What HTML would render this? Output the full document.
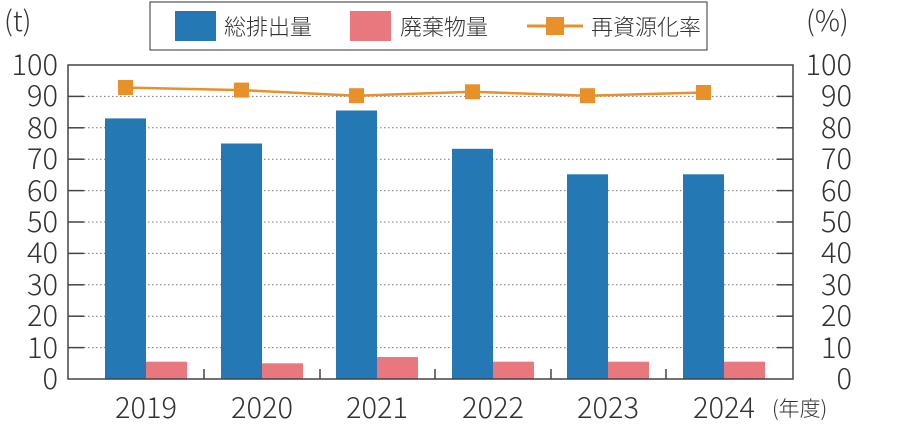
<!DOCTYPE html><html><head><meta charset="utf-8"><style>body{margin:0;background:#fff}</style></head><body>
<svg width="900" height="437" xmlns="http://www.w3.org/2000/svg" font-family="Noto Sans CJK JP, Liberation Sans, sans-serif" fill="#333" font-weight="300">
<rect x="150" y="2" width="557" height="48" fill="#fff" stroke="#555" stroke-width="1.2"/>
<rect x="175" y="11" width="41" height="30" fill="#2479b5"/>
<text x="224" y="35" font-size="22">総排出量</text>
<rect x="350" y="11" width="41" height="30" fill="#e8777e"/>
<text x="400" y="35" font-size="22">廃棄物量</text>
<line x1="527" y1="26" x2="583" y2="26" stroke="#e8902a" stroke-width="3"/>
<rect x="546" y="17" width="18" height="18" fill="#e8902a"/>
<text x="591" y="35" font-size="22">再資源化率</text>
<text x="4" y="31" font-size="28">(t)</text>
<text x="806" y="31" font-size="28">(%)</text>
<g stroke="#777" stroke-width="1" stroke-dasharray="1.5,2.5">
<line x1="68" x2="793" y1="96.4" y2="96.4"/><line x1="68" x2="793" y1="127.8" y2="127.8"/><line x1="68" x2="793" y1="159.2" y2="159.2"/><line x1="68" x2="793" y1="190.6" y2="190.6"/><line x1="68" x2="793" y1="222" y2="222"/><line x1="68" x2="793" y1="253.4" y2="253.4"/><line x1="68" x2="793" y1="284.8" y2="284.8"/><line x1="68" x2="793" y1="316.2" y2="316.2"/><line x1="68" x2="793" y1="347.6" y2="347.6"/>
</g>
<g stroke="#444" stroke-width="1.5">
<line x1="68" x2="84" y1="96.4" y2="96.4"/><line x1="68" x2="84" y1="127.8" y2="127.8"/><line x1="68" x2="84" y1="159.2" y2="159.2"/><line x1="68" x2="84" y1="190.6" y2="190.6"/><line x1="68" x2="84" y1="222" y2="222"/><line x1="68" x2="84" y1="253.4" y2="253.4"/><line x1="68" x2="84" y1="284.8" y2="284.8"/><line x1="68" x2="84" y1="316.2" y2="316.2"/><line x1="68" x2="84" y1="347.6" y2="347.6"/>
<line x1="777" x2="793" y1="96.4" y2="96.4"/><line x1="777" x2="793" y1="127.8" y2="127.8"/><line x1="777" x2="793" y1="159.2" y2="159.2"/><line x1="777" x2="793" y1="190.6" y2="190.6"/><line x1="777" x2="793" y1="222" y2="222"/><line x1="777" x2="793" y1="253.4" y2="253.4"/><line x1="777" x2="793" y1="284.8" y2="284.8"/><line x1="777" x2="793" y1="316.2" y2="316.2"/><line x1="777" x2="793" y1="347.6" y2="347.6"/>
<line x1="204" x2="204" y1="369" y2="379"/><line x1="320" x2="320" y1="369" y2="379"/><line x1="435" x2="435" y1="369" y2="379"/><line x1="551" x2="551" y1="369" y2="379"/><line x1="666" x2="666" y1="369" y2="379"/>
</g>
<g fill="#2479b5">
<rect x="105" y="118.4" width="41" height="260.6"/><rect x="221" y="143.5" width="41" height="235.5"/><rect x="336" y="110.5" width="41" height="268.5"/><rect x="452" y="148.8" width="41" height="230.2"/><rect x="567" y="174.3" width="41" height="204.7"/><rect x="683" y="174.3" width="41" height="204.7"/>
</g>
<g fill="#e8777e">
<rect x="146" y="361.7" width="41" height="17.3"/><rect x="262" y="363.3" width="41" height="15.7"/><rect x="377" y="357" width="41" height="22"/><rect x="493" y="361.7" width="41" height="17.3"/><rect x="608" y="361.7" width="41" height="17.3"/><rect x="724" y="361.7" width="41" height="17.3"/>
</g>
<rect x="68" y="65" width="725" height="314" fill="none" stroke="#444" stroke-width="1.5"/>
<polyline points="125.5,87.6 241.5,90.1 356.5,95.7 472.5,91.8 587.5,95.7 703.5,92.5" fill="none" stroke="#e8902a" stroke-width="2.5"/>
<g fill="#e8902a">
<rect x="118" y="80" width="15" height="15"/><rect x="234" y="82.6" width="15" height="15"/><rect x="349" y="88.2" width="15" height="15"/><rect x="465" y="84.3" width="15" height="15"/><rect x="580" y="88.2" width="15" height="15"/><rect x="696" y="85" width="15" height="15"/>
</g>
<g font-size="29" text-anchor="end">
<text x="58" y="75">100</text><text x="58" y="106">90</text><text x="58" y="138">80</text><text x="58" y="169">70</text><text x="58" y="201">60</text><text x="58" y="232">50</text><text x="58" y="263">40</text><text x="58" y="295">30</text><text x="58" y="326">20</text><text x="58" y="358">10</text><text x="58" y="389">0</text>
</g>
<g font-size="29" text-anchor="end">
<text x="852" y="75">100</text><text x="852" y="106">90</text><text x="852" y="138">80</text><text x="852" y="169">70</text><text x="852" y="201">60</text><text x="852" y="232">50</text><text x="852" y="263">40</text><text x="852" y="295">30</text><text x="852" y="326">20</text><text x="852" y="358">10</text><text x="852" y="389">0</text>
</g>
<g font-size="29" text-anchor="middle">
<text x="146" y="418">2019</text><text x="262" y="418">2020</text><text x="377" y="418">2021</text><text x="493" y="418">2022</text><text x="608" y="418">2023</text><text x="724" y="418">2024</text>
</g>
<text x="772" y="416" font-size="21">(年度)</text>
</svg></body></html>
